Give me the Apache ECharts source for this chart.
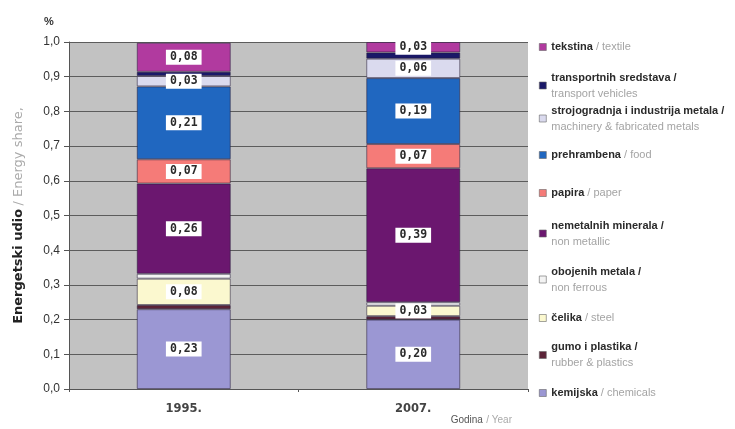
<!DOCTYPE html>
<html>
<head>
<meta charset="utf-8">
<script src="https://cdn.jsdelivr.net/npm/echarts@6/dist/echarts.min.js"></script>
<style>
html,body{margin:0;padding:0;background:#fff;}
#c{width:735px;height:429px;}
</style>
</head>
<body>
<div id="c"></div>
<script>
// ---- data ----
const years = ['1995.', '2007.'];
const yTicks = [0, 0.1, 0.2, 0.3, 0.4, 0.5, 0.6, 0.7, 0.8, 0.9, 1.0];
// series, bottom to top of the stack
const seriesNames = ['chemicals', 'rubber', 'steel', 'nonferrous', 'nonmetallic', 'paper', 'food', 'machinery', 'transport', 'textile'];
const chemicals   = [0.23, 0.20];
const rubber      = [0.012, 0.01];
const steel       = [0.076, 0.03];
const nonferrous  = [0.014, 0.01];
const nonmetallic = [0.26, 0.386];
const paper       = [0.07, 0.07];
const food        = [0.21, 0.19];
const machinery   = [0.03, 0.056];
const transport   = [0.012, 0.018];
const textile     = [0.084, 0.03];
// legend texts (Croatian / English), top to bottom
const legendOrder = ['textile', 'transport', 'machinery', 'food', 'paper', 'nonmetallic', 'nonferrous', 'steel', 'rubber', 'chemicals'];
const legendHr = ['tekstina', 'transportnih sredstava', 'strojogradnja i industrija metala', 'prehrambena', 'papira', 'nemetalnih minerala', 'obojenih metala', 'čelika', 'gumo i plastika', 'kemijska'];
const legendEn = ['textile', 'transport vehicles', 'machinery & fabricated metals', 'food', 'paper', 'non metallic', 'non ferrous', 'steel', 'rubber & plastics', 'chemicals'];
const legendTwoLine = [false, true, true, false, false, true, true, false, true, false];

// ---- styles ----
const colors = {
  chemicals: '#9b97d3', rubber: '#5c2438', steel: '#fbf8cf', nonferrous: '#f3f3f3',
  nonmetallic: '#6b176f', paper: '#f57b78', food: '#2067c0', machinery: '#dadaee',
  transport: '#1a1868', textile: '#b13a9f'
};
const legendTops = [39, 69.5, 102.5, 147, 185, 217.5, 263.5, 310, 339, 385];

const values = {chemicals, rubber, steel, nonferrous, nonmetallic, paper, food, machinery, transport, textile};

const series = seriesNames.map(n => ({
  name: n,
  type: 'bar',
  stack: 'total',
  barWidth: 94,
  itemStyle: { color: colors[n], borderColor: 'rgba(40,30,60,0.55)', borderWidth: 1 },
  label: {
    show: true,
    position: 'inside',
    formatter: p => p.value.toFixed(2).replace('.', ','),
    backgroundColor: '#ffffff',
    padding: [2, 4, 1, 4],
    color: '#2a2a2a',
    fontFamily: 'DejaVu Sans Mono',
    fontSize: 11.5,
    fontWeight: 'bold'
  },
  data: values[n].map(v => v < 0.025 ? { value: v, label: { show: false } } : v)
}));

const legends = legendOrder.map((n, i) => ({
  data: [n],
  orient: 'vertical',
  left: 539,
  top: legendTops[i],
  padding: 0,
  icon: 'rect',
  itemWidth: 7,
  itemHeight: 7,
  selectedMode: false,
  itemStyle: { borderColor: '#666', borderWidth: 0.6 },
  formatter: () => legendTwoLine[i]
      ? '{a|' + legendHr[i] + ' /}\n{b|' + legendEn[i] + '}'
      : '{a|' + legendHr[i] + '} {b|/ ' + legendEn[i] + '}',
  textStyle: {
    fontFamily: 'Liberation Sans',
    fontSize: 11,
    lineHeight: 16,
    rich: {
      a: { color: '#2a2a2a', fontSize: 11, fontWeight: 'bold', lineHeight: 16, fontFamily: 'Liberation Sans' },
      b: { color: '#a4a4a4', fontSize: 11, lineHeight: 16, fontFamily: 'Liberation Sans' }
    }
  }
}));

const chart = echarts.init(document.getElementById('c'), null, { renderer: 'canvas' });
chart.setOption({
  animation: false,
  backgroundColor: '#ffffff',
  title: {
    text: '%', left: 44, top: 16, padding: 0,
    textStyle: { fontSize: 11, color: '#333', fontWeight: 'bold', fontFamily: 'Liberation Sans' }
  },
  legend: legends,
  grid: {
    left: 69, right: 207, top: 42, bottom: 40,
    show: true, backgroundColor: '#c2c2c2', borderWidth: 0
  },
  xAxis: {
    type: 'category',
    data: years,
    axisLine: { lineStyle: { color: '#555', width: 1 } },
    axisTick: { show: true, length: 3, lineStyle: { color: '#555' } },
    axisLabel: { color: '#444', fontSize: 11.5, fontWeight: 'bold', fontFamily: 'DejaVu Sans', margin: 14 },
    name: '{a|Godina} {b|/ Year}',
    nameLocation: 'end',
    nameGap: 0,
    nameTextStyle: {
      align: 'right', verticalAlign: 'top', padding: [25, 16, 0, 0],
      rich: {
        a: { color: '#555', fontSize: 10, fontFamily: 'Liberation Sans' },
        b: { color: '#aaa', fontSize: 10, fontFamily: 'Liberation Sans' }
      }
    }
  },
  yAxis: {
    type: 'value',
    min: yTicks[0],
    max: yTicks[yTicks.length - 1],
    interval: 0.1,
    axisLine: { show: true, lineStyle: { color: '#555', width: 1 } },
    axisTick: { show: true, length: 5, lineStyle: { color: '#555' } },
    axisLabel: {
      color: '#333', fontSize: 12, fontFamily: 'Liberation Sans', margin: 9,
      formatter: v => v.toFixed(1).replace('.', ',')
    },
    splitLine: { show: true, lineStyle: { color: '#5c5c5c', width: 1 } },
    name: '{a|Energetski udio} {b|/ Energy share,}',
    nameLocation: 'middle',
    nameRotate: 90,
    nameGap: 44,
    nameTextStyle: {
      rich: {
        a: { color: '#222', fontSize: 13, fontWeight: 'bold', fontFamily: 'DejaVu Sans' },
        b: { color: '#aaa', fontSize: 13, fontFamily: 'DejaVu Sans' }
      }
    }
  },
  series: series
});
</script>
</body>
</html>
